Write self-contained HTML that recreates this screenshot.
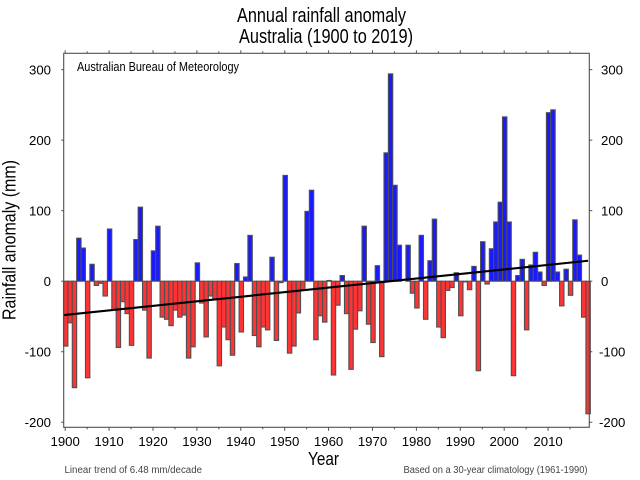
<!DOCTYPE html>
<html lang="en">
<head>
<meta charset="utf-8">
<title>Annual rainfall anomaly Australia (1900 to 2019)</title>
<style>
html,body{margin:0;padding:0;background:#fff;}
svg{display:block;font-family:"Liberation Sans",Arial,sans-serif;}
</style>
</head>
<body>
<svg id="chart" xmlns="http://www.w3.org/2000/svg" width="640" height="480" viewBox="0 0 640 480">
  <rect x="0" y="0" width="640" height="480" fill="#ffffff"/>
  <text x="237" y="22" font-size="20" fill="#000" textLength="169" lengthAdjust="spacingAndGlyphs">Annual rainfall anomaly</text>
  <text x="239" y="43" font-size="20" fill="#000" textLength="174" lengthAdjust="spacingAndGlyphs">Australia (1900 to 2019)</text>
  <g id="bars"></g>
  <g id="trend"></g>
  <g id="axes"></g>
  <text x="77" y="71" font-size="13" fill="#000" textLength="162" lengthAdjust="spacingAndGlyphs">Australian Bureau of Meteorology</text>
  <text transform="translate(15.5,320) rotate(-90)" font-size="18" fill="#000" textLength="160" lengthAdjust="spacingAndGlyphs">Rainfall anomaly (mm)</text>
  <text x="308" y="465" font-size="18" fill="#000" textLength="31" lengthAdjust="spacingAndGlyphs">Year</text>
  <text x="64.5" y="473" font-size="10" fill="#444" textLength="137.5" lengthAdjust="spacingAndGlyphs">Linear trend of 6.48 mm/decade</text>
  <text x="403.5" y="473" font-size="10" fill="#444" textLength="184" lengthAdjust="spacingAndGlyphs">Based on a 30-year climatology (1961-1990)</text>
</svg>
<script>
var firstYear = 1900;
var anomalies = [
  -92, -59, -151, 61, 47, -137, 24, -6, -3, -21,
  74, -40, -94, -29, -46, -91, 59, 105, -41, -109,
  43, 78, -51, -54, -63, -41, -51, -48, -109, -93,
  26, -31, -79, -21, -26, -120, -65, -83, -105, 25,
  -72, 6, 65, -77, -93, -65, -69, 34, -84, -2,
  150, -102, -92, -45, -12, 99, 129, -83, -49, -58,
  1, -133, -34, 8, -46, -125, -68, -42, 78, -61,
  -87, 22, -107, 182, 294, 136, 51, 0, 51, -17,
  -38, 65, -54, 29, 88, -65, -80, -13, -9, 12,
  -49, -1, -12, 21, -127, 56, -4, 46, 84, 112,
  233, 84, -134, 8, 31, -69, 23, 41, 13, -6,
  239, 243, 13, -35, 17, -20, 87, 37, -51, -188
];
var trendYears = [1899.6, 2019];
var trendValues = [-48, 29];
var yTickValues = [300, 200, 100, 0, -100, -200];
var yTickLabels = ["300", "200", "100", "0", "-100", "-200"];
var xMajorYears = [1900, 1910, 1920, 1930, 1940, 1950, 1960, 1970, 1980, 1990, 2000, 2010];
var xMinorYears = [1905, 1915, 1925, 1935, 1945, 1955, 1965, 1975, 1985, 1995, 2005, 2015];

var NS = "http://www.w3.org/2000/svg";
var plotLeft = 63.7, plotRight = 589.3, plotTop = 53.3, plotBottom = 427.3;
var AXIS = "#505050";

function xScale(year) { return 65.7 + (year - 1900) * 4.39; }
function yScale(value) { return 281.2 - value * 0.7052; }

function make(tag, attrs, parent) {
  var el = document.createElementNS(NS, tag);
  for (var k in attrs) { el.setAttribute(k, attrs[k]); }
  parent.appendChild(el);
  return el;
}

var barsLayer = document.getElementById("bars");
var barHalf = 4.39 / 2;
anomalies.forEach(function (value, i) {
  var year = firstYear + i;
  var top = Math.min(yScale(value), yScale(0));
  var h = Math.abs(yScale(value) - yScale(0));
  var bar = make("rect", {
    x: xScale(year) - barHalf,
    y: top,
    width: barHalf * 2,
    height: h,
    fill: value >= 0 ? "#1a1aff" : "#ff3333",
    stroke: AXIS,
    "stroke-width": 1.1
  }, barsLayer);
  
  
});

var trendLayer = document.getElementById("trend");
var trendLine = make("line", {
  x1: xScale(trendYears[0]),
  y1: yScale(trendValues[0]),
  x2: xScale(trendYears[1]),
  y2: yScale(trendValues[1]),
  stroke: "#000",
  "stroke-width": 2.1
}, trendLayer);



var axes = document.getElementById("axes");
var frame = make("rect", {
  x: plotLeft, y: plotTop,
  width: plotRight - plotLeft, height: plotBottom - plotTop,
  fill: "none", stroke: AXIS, "stroke-width": 1.1
}, axes);



function tick(x1, y1, x2, y2, name) {
  var t = make("line", { x1: x1, y1: y1, x2: x2, y2: y2, stroke: AXIS, "stroke-width": 1 }, axes);
  
  
}

yTickValues.forEach(function (value, i) {
  var y = yScale(value);
  tick(plotLeft - 2.5, y, plotLeft, y, 'y-tick-left');
  tick(plotRight, y, plotRight + 3, y, 'y-tick-right');
  var left = make("text", { x: 51, y: y + 4.7, "font-size": 13.2, "text-anchor": "end", fill: "#000" }, axes);
  left.textContent = yTickLabels[i];
  
  
  var right = make("text", { x: value < 0 ? 599 : 601, y: y + 4.7, "font-size": 13.2, fill: "#000" }, axes);
  right.textContent = yTickLabels[i];
  
  
});

xMajorYears.forEach(function (year) {
  var x = xScale(year) - 0.5;
  tick(x, plotTop - 3, x, plotTop, 'x-tick-top');
  tick(x, plotBottom, x, plotBottom + 3.5, 'x-tick-bottom');
  var label = make("text", { x: x, y: 446, "font-size": 13.2, "text-anchor": "middle", fill: "#000" }, axes);
  label.textContent = String(year);
  
  
});

xMinorYears.forEach(function (year) {
  var x = xScale(year) - 0.5;
  tick(x, plotTop - 2, x, plotTop, 'x-minor-tick-top');
  tick(x, plotBottom, x, plotBottom + 2, 'x-minor-tick-bottom');
});
</script>
</body>
</html>
